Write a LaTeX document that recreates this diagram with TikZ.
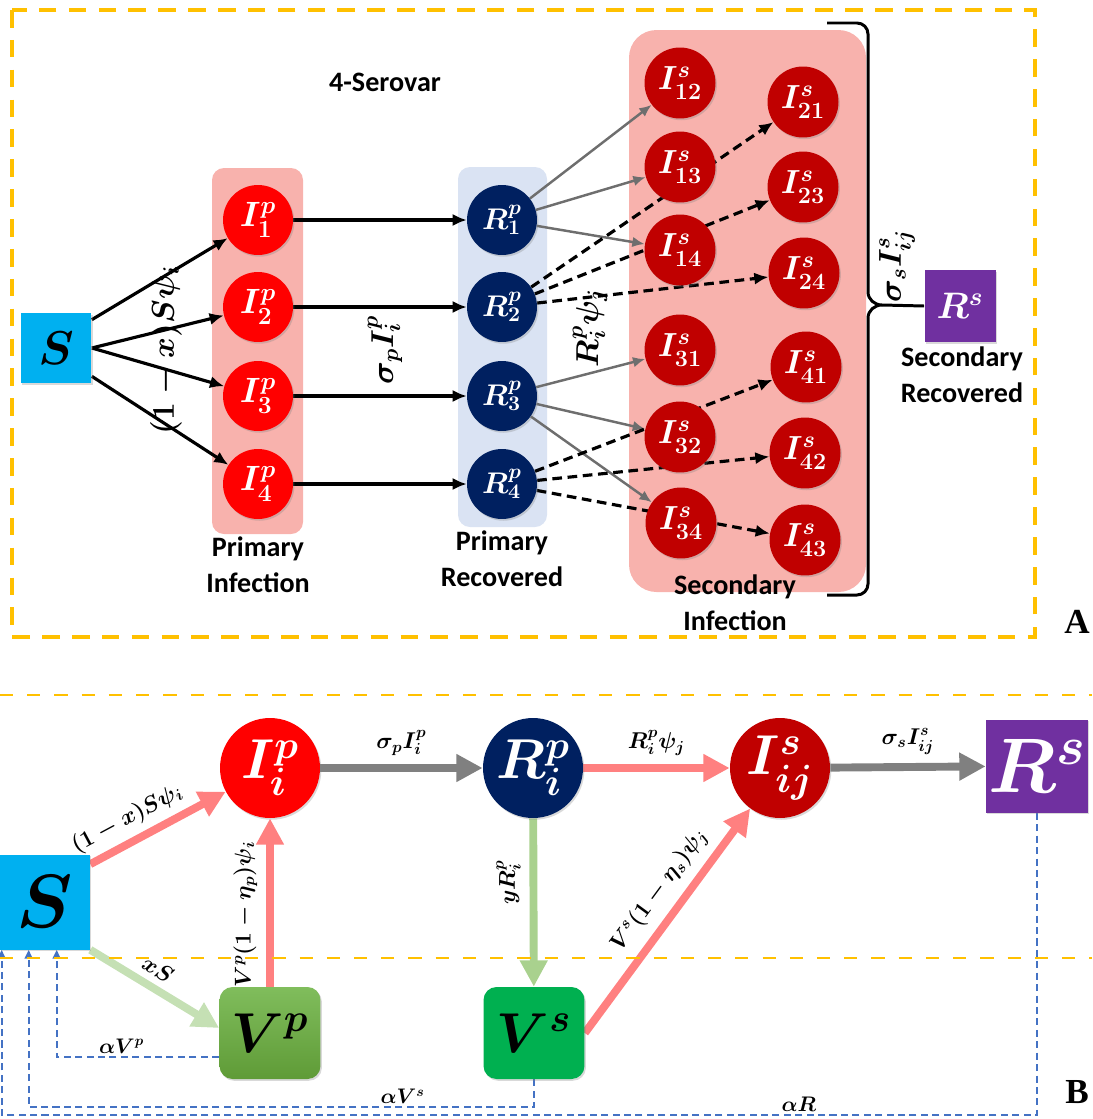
\RequirePackage{fix-cm}
\documentclass[tikz,border=0pt]{standalone}
\usepackage[no-math]{fontspec}
\setmainfont{Carlito}
\newfontfamily\tnr{Liberation Serif}
\usetikzlibrary{arrows.meta,shadows,calc}
\pgfdeclarelayer{bgA}
\pgfdeclarelayer{bgB}
\pgfsetlayers{bgA,bgB,main}
\newcommand{\myfs}[1]{\fontsize{#1}{#1}\selectfont}
\definecolor{cS}{HTML}{00B0F0}
\definecolor{cIp}{HTML}{FF0000}
\definecolor{cIs}{HTML}{C00000}
\definecolor{cR}{HTML}{002060}
\definecolor{cRs}{HTML}{7030A0}
\definecolor{cPinkBox}{HTML}{F8B2AD}
\definecolor{cBlueBox}{HTML}{DAE3F3}
\definecolor{cOrange}{HTML}{FFC000}
\definecolor{cGrayT}{HTML}{6E6E6E}
\definecolor{cGrayB}{HTML}{808080}
\definecolor{cPinkA}{HTML}{FF8080}
\definecolor{cGreenA}{HTML}{C5E0B4}
\definecolor{cGreenB}{HTML}{A9D18E}
\definecolor{cBlueD}{HTML}{4472C4}
\definecolor{cVpT}{HTML}{80BD5C}
\definecolor{cVpB}{HTML}{5F9B37}
\definecolor{cVs}{HTML}{00B050}
\begin{document}
\begin{tikzpicture}[x=0.02cm,y=-0.02cm,
  shd/.style={drop shadow={shadow xshift=0.8pt,shadow yshift=-1pt,opacity=0.3}},
  ipc/.style={circle,fill=cIp,text=white,minimum size=1.4cm,inner sep=0pt,font=\myfs{20}\boldmath,shd},
  rpc/.style={circle,fill=cR,text=white,minimum size=1.4cm,inner sep=0pt,font=\myfs{17}\boldmath,shd},
  isc/.style={circle,fill=cIs,text=white,minimum size=1.42cm,inner sep=0pt,font=\myfs{19}\boldmath,shd},
  txt/.style={font=\fontsize{16}{20.5}\selectfont\bfseries,align=center,inner sep=0pt},
  rlbl/.style={rotate=90,font=\myfs{18}\boldmath,inner sep=0pt},
  blk/.style={line width=1.8pt,-{Latex[length=8pt,width=7pt]}},
  gry/.style={draw=cGrayT,line width=1.4pt,-{Latex[length=7pt,width=6pt]}},
  dsh/.style={line width=1.8pt,dash pattern=on 5.5pt off 3.2pt,-{Latex[length=8pt,width=7pt]}},
  orng/.style={draw=cOrange,line width=2pt,dash pattern=on 10pt off 7pt},
  orngb/.style={draw=cOrange,line width=1.6pt,dash pattern=on 7.5pt off 8pt},
  thk/.style={line width=4.5pt,-{Triangle[length=15pt,width=15pt]}},
  blu/.style={draw=cBlueD,line width=1.1pt,dash pattern=on 4pt off 2.5pt,-{Triangle[length=5pt,width=4.5pt]}},
  elbl/.style={font=\myfs{13}\boldmath,inner sep=2pt},
  albl/.style={font=\myfs{12}\boldmath,inner sep=1.5pt}
]
\useasboundingbox (0,0) rectangle (1092,1119);

% ================= Panel A =================
\node[fill=cS,minimum width=1.42cm,minimum height=1.4cm,inner sep=0pt,font=\myfs{27}\boldmath,shd] (S1) at (56,348) {$S$};
\node[ipc] (I1) at (258,220) {$I^{p}_{1}$};
\node[ipc] (I2) at (258,307) {$I^{p}_{2}$};
\node[ipc] (I3) at (258,396) {$I^{p}_{3}$};
\node[ipc] (I4) at (258,484) {$I^{p}_{4}$};
\node[rpc] (R1) at (502,220) {$R^{p}_{1}$};
\node[rpc] (R2) at (502,307) {$R^{p}_{2}$};
\node[rpc] (R3) at (502,396) {$R^{p}_{3}$};
\node[rpc] (R4) at (502,484) {$R^{p}_{4}$};
\node[isc] (I12) at (680,83) {$I^{s}_{12}$};
\node[isc] (I13) at (680,167) {$I^{s}_{13}$};
\node[isc] (I14) at (680,250) {$I^{s}_{14}$};
\node[isc] (I31) at (680,350) {$I^{s}_{31}$};
\node[isc] (I32) at (680,437) {$I^{s}_{32}$};
\node[isc] (I34) at (681,523) {$I^{s}_{34}$};
\node[isc] (I21) at (803,102) {$I^{s}_{21}$};
\node[isc] (I23) at (803,187) {$I^{s}_{23}$};
\node[isc] (I24) at (804,273) {$I^{s}_{24}$};
\node[isc] (I41) at (806,367) {$I^{s}_{41}$};
\node[isc] (I42) at (805,453) {$I^{s}_{42}$};
\node[isc] (I43) at (805,540) {$I^{s}_{43}$};
\node[fill=cRs,text=white,minimum width=1.42cm,minimum height=1.44cm,inner sep=0pt,font=\myfs{21}\boldmath,shd] (RS1) at (960,306) {$R^{s}$};

\begin{pgfonlayer}{bgA}
  \fill[cPinkBox,rounded corners=0.24cm] (212,168) rectangle (303,534);
  \fill[cBlueBox,rounded corners=0.24cm] (458,167) rectangle (547,527);
  \fill[cPinkBox,rounded corners=0.55cm] (629,30) rectangle (866,592);
\end{pgfonlayer}

\node[txt] (t4) at (385,82) {4-Serovar};
\node[txt] (tPI) at (258,565) {Primary\\Infection};
\node[txt] (tPR) at (502,559) {Primary\\Recovered};
\node[txt] (tSI) at (735,603) {Secondary\\Infection};
\node[txt] (tSR) at (962,375) {Secondary\\Recovered};

\node[rlbl] (l1) at (166,350) {$(1-x)S\psi_i$};
\node[rlbl] (l2) at (385,350) {$\sigma_pI^p_i$};
\node[rlbl] (l3) at (590,328) {$R^p_i\psi_j$};
\node[rlbl] (l4) at (897,266) {$\sigma_sI^s_{ij}$};

\begin{pgfonlayer}{bgB}
  \draw[blk] ($(S1.north east)+(0,7)$) -- (I1);
  \draw[blk] (S1.east) -- (I2);
  \draw[blk] (S1.east) -- (I3);
  \draw[blk] ($(S1.south east)+(0,-7)$) -- (I4);
  \draw[blk] (I1) -- (R1);
  \draw[blk] (I2) -- (R2);
  \draw[blk] (I3) -- (R3);
  \draw[blk] (I4) -- (R4);
  \draw[gry] (R1) -- (I12);
  \draw[gry] (R1) -- (I13);
  \draw[gry] (R1) -- (I14);
  \draw[gry] (R3) -- (I31);
  \draw[gry] (R3) -- (I32);
  \draw[gry] (R3) -- (I34);
  \draw[dsh] (R2) -- (I21);
  \draw[dsh] (R2) -- (I23);
  \draw[dsh] (R2) -- (I24);
  \draw[dsh] (R4) -- (I41);
  \draw[dsh] (R4) -- (I42);
  \draw[dsh] (R4) -- (I43);
\end{pgfonlayer}

% brace
\coordinate (bt) at (882,305);
\draw[line width=1.7pt] (827,23) -- (857,23) to[out=0,in=90] (868,34) -- (868,292) to[out=-90,in=180] (bt)
  to[out=180,in=90] (868,318) -- (868,584) to[out=-90,in=0] (857,595) -- (827,595);
\draw[line width=1.7pt] (bt) -- (RS1.west);

\draw[orng] (12,10) rectangle (1035,637);
\node[font=\tnr\bfseries\myfs{20},inner sep=0pt] (A) at (1077,622) {A};

% ================= Panel B =================
\node[fill=cS,minimum width=1.8cm,minimum height=1.9cm,inner sep=0pt,font=\myfs{43}\boldmath,shd] (S2) at (45,902) {$S$};
\node[circle,fill=cIp,text=white,minimum size=2cm,inner sep=0pt,font=\myfs{32}\boldmath,shd] (Ipi) at (270,768) {$I^{p}_{i}$};
\node[circle,fill=cR,text=white,minimum size=2cm,inner sep=0pt,font=\myfs{32}\boldmath,shd] (Rpi) at (533,768) {$R^{p}_{i}$};
\node[circle,fill=cIs,text=white,minimum size=2cm,inner sep=0pt,font=\myfs{32}\boldmath,shd] (Isij) at (780,768) {$I^{s}_{ij}$};
\node[fill=cRs,text=white,minimum width=2.04cm,minimum height=1.86cm,inner sep=0pt,font=\myfs{44}\boldmath,shd] (RSb) at (1037,766) {$R^{s}$};
\node[rounded corners=0.26cm,top color=cVpT,bottom color=cVpB,minimum width=2.02cm,minimum height=1.84cm,inner sep=0pt,font=\myfs{32}\boldmath,shd] (Vp) at (270,1033) {$V^{p}$};
\node[rounded corners=0.26cm,fill=cVs,minimum width=2.02cm,minimum height=1.84cm,inner sep=0pt,font=\myfs{32}\boldmath,shd] (Vs) at (534,1033) {$V^{s}$};

\begin{pgfonlayer}{bgB}
  \draw[thk,cPinkA] ($(S2.north east)+(0,10)$) -- (Ipi) node[pos=0.35,above=2pt,sloped,elbl,text=black] {$(1-x)S\psi_i$};
  \draw[thk,cPinkA] (Vp.north) -- (Ipi.south) node[pos=0.43,anchor=south,xshift=-3pt,rotate=90,elbl,text=black] {$V^p(1-\eta_p)\psi_i$};
  \draw[thk,cGreenA] (S2.south east) -- ($(Vp.west)+(0,-5)$) node[pos=0.45,above=2pt,sloped,elbl,text=black] {$xS$};
  \draw[thk,cGrayB] (Ipi) -- (Rpi) node[midway,above=3pt,elbl,text=black] {$\sigma_pI^p_i$};
  \draw[thk,cPinkA] (Rpi) -- (Isij) node[midway,above=3pt,elbl,text=black] {$R^p_i\psi_j$};
  \draw[thk,cGrayB] (Isij) -- (RSb) node[midway,above=3pt,elbl,text=black] {$\sigma_sI^s_{ij}$};
  \draw[thk,cGreenB] (Rpi) -- (Vs) node[pos=0.38,anchor=south,xshift=-3pt,rotate=90,elbl,text=black] {$yR^p_i$};
  \draw[thk,cPinkA] (Vs.east) -- (Isij) node[pos=0.57,above=3pt,sloped,elbl,text=black] {$V^s(1-\eta_s)\psi_j$};
  \draw[blu] ($(Vp.west)+(0,24)$) -| ($(S2.south west)+(57,0)$) node[pos=0.3,above,albl] {$\alpha V^p$};
  \draw[blu] (Vs.south) -- ++(0,28) -| ($(S2.south west)+(29,0)$) node[pos=0.13,above,albl] {$\alpha V^s$};
  \draw[blu] (RSb.south) -- ++(0,302) -| ($(S2.south west)+(2,0)$) node[pos=0.115,above,albl] {$\alpha R$};
\end{pgfonlayer}

\draw[orngb] (0,695) -- (1092,695);
\draw[orngb] (0,958) -- (1092,958);
\node[font=\tnr\bfseries\myfs{20},inner sep=0pt] (B) at (1077,1092) {B};
\end{tikzpicture}
\end{document}
